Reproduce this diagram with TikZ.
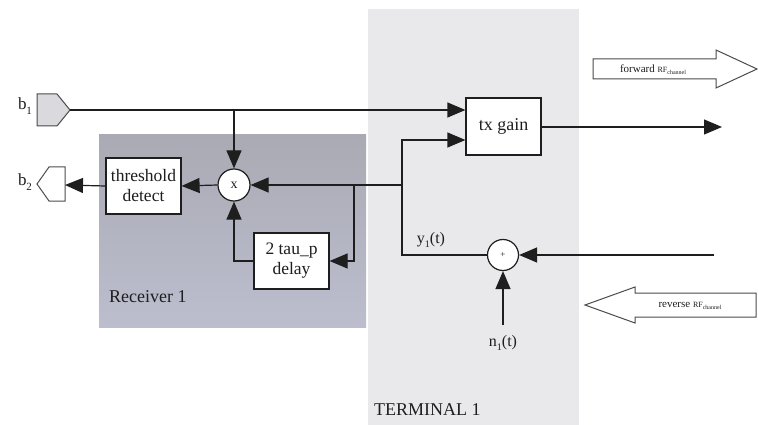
\documentclass[tikz,border=0pt]{standalone}
\usepackage{fontspec}
\setmainfont{Liberation Serif}
\usetikzlibrary{arrows.meta,calc}
\newcommand\lowsub[2][10]{\raisebox{-0.28em}{\fontsize{#1}{#1}\selectfont #2}}
\definecolor{ink}{RGB}{30,30,30}
\definecolor{termfill}{RGB}{233,233,235}
\definecolor{rectop}{RGB}{170,170,180}
\definecolor{recbot}{RGB}{188,190,206}
\definecolor{portfill}{RGB}{218,218,222}
\tikzset{
  ln/.style={draw=ink, line width=1.2pt},
  arr/.style={ln, -{Triangle[length=18pt,width=15pt]}},
  blockbox/.style={draw=ink, line width=1.2pt, fill=white, minimum width=75pt, minimum height=56pt, inner sep=0pt, align=center, text=ink, font=\fontsize{17.5}{20}\selectfont},
  junc/.style={draw=ink, line width=1.2pt, fill=white, circle, inner sep=0pt, text=ink},
  lbl/.style={text=ink, inner sep=0pt, font=\fontsize{18}{20}\selectfont},
  bigarrow/.style={draw=ink!80, line width=1pt, fill=white},
  port/.style={draw=ink!80, line width=1pt}
}
\begin{document}
\begin{tikzpicture}[x=1pt,y=-1pt]
\useasboundingbox (0,0) rectangle (758,425);
% shaded regions
\fill[termfill] (368,9) rectangle (579,425);
\shade[top color=rectop, bottom color=recbot] (99,135) rectangle (366,327);

% ports
\draw[port, fill=portfill] (37,94) -- (57,94) -- (70,110) -- (57,126) -- (37,126) -- cycle;
\coordinate (b1tip) at (70,110);
\draw[port, fill=white] (37,184) -- (49,167) -- (65,167) -- (65,201) -- (49,201) -- cycle;
\coordinate (b2tip) at (65,185);
\node[lbl, font=\fontsize{17}{20}\selectfont] (b1lbl) at (25,106) {b\lowsub[11]{1}};
\node[lbl, font=\fontsize{17}{20}\selectfont] (b2lbl) at (25,182) {b\lowsub[11]{2}};

% blocks
\node[blockbox] (thresh) at (143.5,186) {threshold\\detect};
\node[blockbox] (delay) at (291.5,261) {2 tau\_p\\delay};
\node[blockbox, minimum height=57pt, font=\fontsize{18}{20}\selectfont] (txgain) at (503.5,126.5) {tx gain};
\node[junc, minimum size=32pt, font=\fontsize{14}{14}\selectfont] (mult) at (234,185) {x};
\node[junc, minimum size=31pt, font=\fontsize{9}{9}\selectfont] (sum) at (503,255) {+};

% labels
\node[lbl, anchor=west] (reclbl) at (109,297) {Receiver 1};
\node[lbl, anchor=west] (termlbl) at (374,410) {TERMINAL 1};
\node[lbl, font=\fontsize{16}{18}\selectfont] (ylbl) at (431,240) {y\lowsub[10]{1}(t)};
\node[lbl, font=\fontsize{16}{18}\selectfont] (nlbl) at (503,343) {n\lowsub[10]{1}(t)};

% connectors
\draw[arr] (b1tip) -- (b1tip -| txgain.west);
\draw[arr] (mult |- b1tip) -- (mult.north);
\draw[arr] (mult.west) -- (thresh.east);
\draw[arr] (thresh.west) -- (b2tip);
\coordinate (j1) at (402,255);
\coordinate (j2) at (402,140);
\coordinate (j3) at (402,185);
\coordinate (j4) at (354,185);
\coordinate (j5) at (354,261);
\draw[arr] (sum.west) -- (j1) -- (j2) -- (j2 -| txgain.west);
\draw[arr] (j3) -- (mult.east);
\draw[arr] (j4) -- (j5) -- (delay.east);
\draw[arr] (delay.west) -- (delay.west -| mult) -- (mult.south);
\coordinate (fwdend) at (722,127);
\draw[arr] (txgain.east |- fwdend) -- (fwdend);
\coordinate (revin) at (714,255);
\draw[arr] (revin) -- (sum.east);
\coordinate (nin) at (503,325);
\draw[arr] (nin) -- (sum.south);

% big channel arrows
\draw[bigarrow] (593,59) -- (716,59) -- (716,50) -- (757,69) -- (716,88) -- (716,79) -- (593,79) -- cycle;
\node[lbl, font=\fontsize{11}{12}\selectfont] (fwdlbl) at (653,70) {forward \fontsize{8}{9}\selectfont RF\lowsub[6]{channel}};
\draw[bigarrow] (756,293) -- (635,293) -- (635,287) -- (585,305) -- (635,323) -- (635,317) -- (756,317) -- cycle;
\node[lbl, font=\fontsize{11}{12}\selectfont] (revlbl) at (690,306) {reverse \fontsize{8}{9}\selectfont RF\lowsub[6]{channel}};
\end{tikzpicture}
\end{document}
